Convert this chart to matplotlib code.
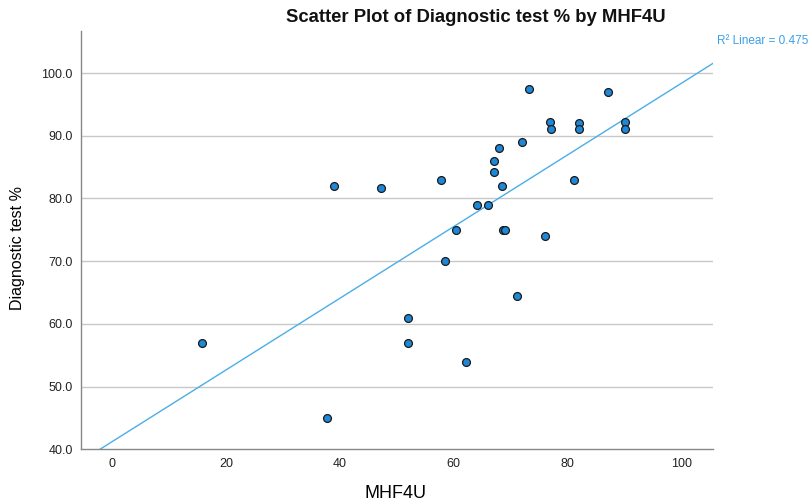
import numpy as np
import matplotlib
matplotlib.use("Agg")
import matplotlib.pyplot as plt

plt.rcParams['font.family'] = ['Liberation Sans', 'DejaVu Sans']

# Data
mhf4u = [15.8, 37.8, 39.0, 47.2, 51.9, 52.0, 57.7, 58.5, 60.4, 62.1,
         64.0, 66.0, 67.0, 67.0, 68.0, 68.5, 68.7, 69.05, 71.05, 72.0,
         73.1, 76.0, 76.9, 77.0, 81.0, 82.0, 82.0, 87.0, 90.0, 90.0]
diag = [57.0, 45.0, 82.0, 81.6, 61.0, 57.0, 83.0, 70.0, 75.0, 54.0,
        79.0, 79.0, 86.0, 84.2, 88.0, 82.0, 75.0, 75.0, 64.5, 89.0,
        97.5, 74.0, 92.2, 91.0, 83.0, 92.0, 91.0, 97.0, 92.2, 91.0]
x_ticks = [0, 20, 40, 60, 80, 100]
y_ticks = [40, 50, 60, 70, 80, 90, 100]
r2_label = "R\u00b2 Linear = 0.475"

x = np.array(mhf4u)
y = np.array(diag)
slope, intercept = np.polyfit(x, y, 1)

fig = plt.figure(figsize=(8.12, 5.03), dpi=100)
ax = fig.add_axes([0.0998, 0.1066, 0.7786, 0.8318])

xlim = (-5.4, 105.5)
ylim = (40, 106.7)
ax.set_xlim(*xlim)
ax.set_ylim(*ylim)

for yt in y_ticks[1:]:
    ax.axhline(yt, color='#c8c8c8', lw=1.0, zorder=1)

xx = np.array(xlim)
ax.plot(xx, intercept + slope * xx, color='#4aaee8', lw=1.0, zorder=2, clip_on=True)

ax.scatter(x, y, s=32, facecolor='#1e88d8', edgecolor='#1a1a1a', linewidths=0.9, zorder=3)

ax.set_xticks(x_ticks)
ax.set_xticklabels([str(t) for t in x_ticks])
ax.set_yticks(y_ticks)
ax.set_yticklabels([f"{t:.1f}" for t in y_ticks])
ax.tick_params(axis='both', length=0, labelsize=9, colors='#222222')
ax.tick_params(axis='x', pad=6)
ax.tick_params(axis='y', pad=6)

for s in ['top', 'right']:
    ax.spines[s].set_visible(False)
for s in ['left', 'bottom']:
    ax.spines[s].set_color('#888888')
    ax.spines[s].set_linewidth(1.0)

fig.text(476 / 812, 1 - 17 / 503, "Scatter Plot of Diagnostic test % by MHF4U",
         ha='center', va='center', fontsize=13.3, fontweight='bold', color='#111111')
fig.text(396 / 812, 1 - 493 / 503, "MHF4U", ha='center', va='center',
         fontsize=13, color='#000000', fontweight='medium')
fig.text(18 / 812, 1 - 248 / 503, "Diagnostic test %", ha='center', va='center',
         rotation=90, fontsize=11.5, color='#000000')
fig.text(717 / 812, 1 - 41 / 503, r2_label, ha='left', va='center',
         fontsize=8.5, color='#3aa0e8')

fig.savefig("out.png", dpi=100)
